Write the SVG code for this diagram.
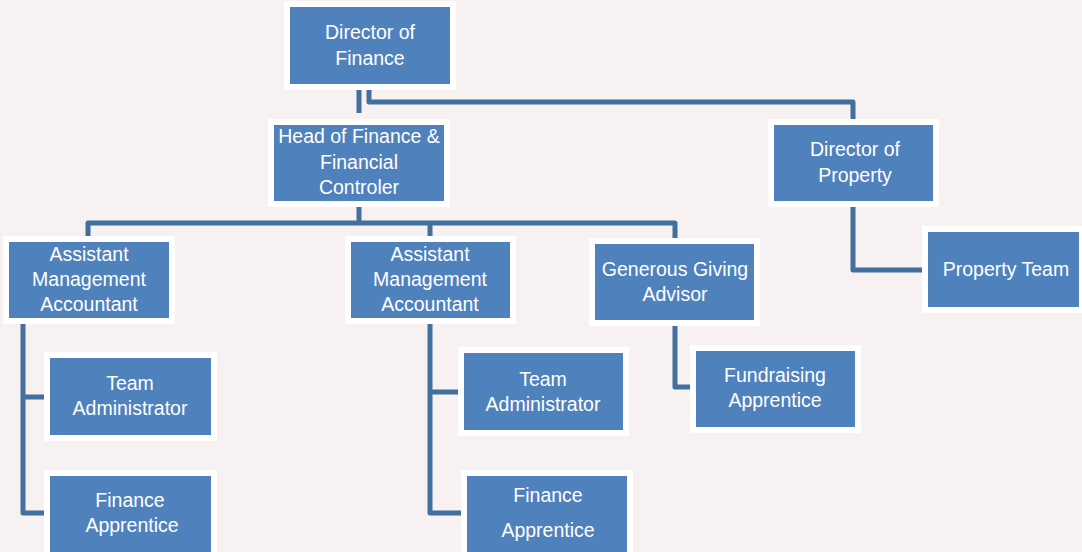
<svg xmlns="http://www.w3.org/2000/svg" width="1082" height="552" viewBox="0 0 1082 552">
<style>
.box{fill:#4F81BD;stroke:#FFFFFF;stroke-width:6}
.t{fill:#FFFFFF;font-family:"Liberation Sans",Arial,sans-serif;font-size:19.5px;text-anchor:middle}
.c{fill:none;stroke:#41709F;stroke-width:5;stroke-linejoin:round}
</style>
<rect width="1082" height="552" fill="#F7F1F1"/>
<g id="connectors">
<path class="c" d="M359 89V113"/>
<path class="c" d="M369 89V102H853V121"/>
<path class="c" d="M359 206V223M88 237V223H675V238M430 223V238"/>
<path class="c" d="M23 322V513H50M23 397H50"/>
<path class="c" d="M430 322V513H467M430 392H464"/>
<path class="c" d="M675 324V387H696"/>
<path class="c" d="M853 205V270H928"/>
</g>
<g id="director-finance"><rect class="box" x="287" y="4" width="166" height="83"/><text class="t" x="370" y="39">Director of</text><text class="t" x="370" y="65">Finance</text></g>
<g id="head-finance"><rect class="box" x="271" y="122" width="176" height="82"/><text class="t" x="359" y="143">Head of Finance &amp;</text><text class="t" x="359" y="169">Financial</text><text class="t" x="359" y="194">Controler</text></g>
<g id="director-property"><rect class="box" x="771" y="122" width="165" height="82"/><text class="t" x="855" y="156">Director of</text><text class="t" x="855" y="182">Property</text></g>
<g id="property-team"><rect class="box" x="925" y="229" width="157" height="81"/><text class="t" x="1006" y="276">Property Team</text></g>
<g id="asst-1"><rect class="box" x="6" y="239" width="166" height="82"/><text class="t" x="89" y="261">Assistant</text><text class="t" x="89" y="286">Management</text><text class="t" x="89" y="311">Accountant</text></g>
<g id="asst-2"><rect class="box" x="348" y="239" width="165" height="82"/><text class="t" x="430" y="261">Assistant</text><text class="t" x="430" y="286">Management</text><text class="t" x="430" y="311">Accountant</text></g>
<g id="generous"><rect class="box" x="592" y="241" width="165" height="82"/><text class="t" x="675" y="276">Generous Giving</text><text class="t" x="675" y="301">Advisor</text></g>
<g id="fundraising"><rect class="box" x="693" y="348" width="165" height="82"/><text class="t" x="775" y="382">Fundraising</text><text class="t" x="775" y="407">Apprentice</text></g>
<g id="team-admin-1"><rect class="box" x="47" y="355" width="167" height="83"/><text class="t" x="130" y="390">Team</text><text class="t" x="130" y="415">Administrator</text></g>
<g id="finance-app-1"><rect class="box" x="47" y="473" width="167" height="86"/><text class="t" x="130" y="507">Finance</text><text class="t" x="132" y="532">Apprentice</text></g>
<g id="team-admin-2"><rect class="box" x="461" y="350" width="165" height="83"/><text class="t" x="543" y="386">Team</text><text class="t" x="543" y="411">Administrator</text></g>
<g id="finance-app-2"><rect class="box" x="464" y="473" width="166" height="86"/><text class="t" x="548" y="502">Finance</text><text class="t" x="548" y="537">Apprentice</text></g>
</svg>
